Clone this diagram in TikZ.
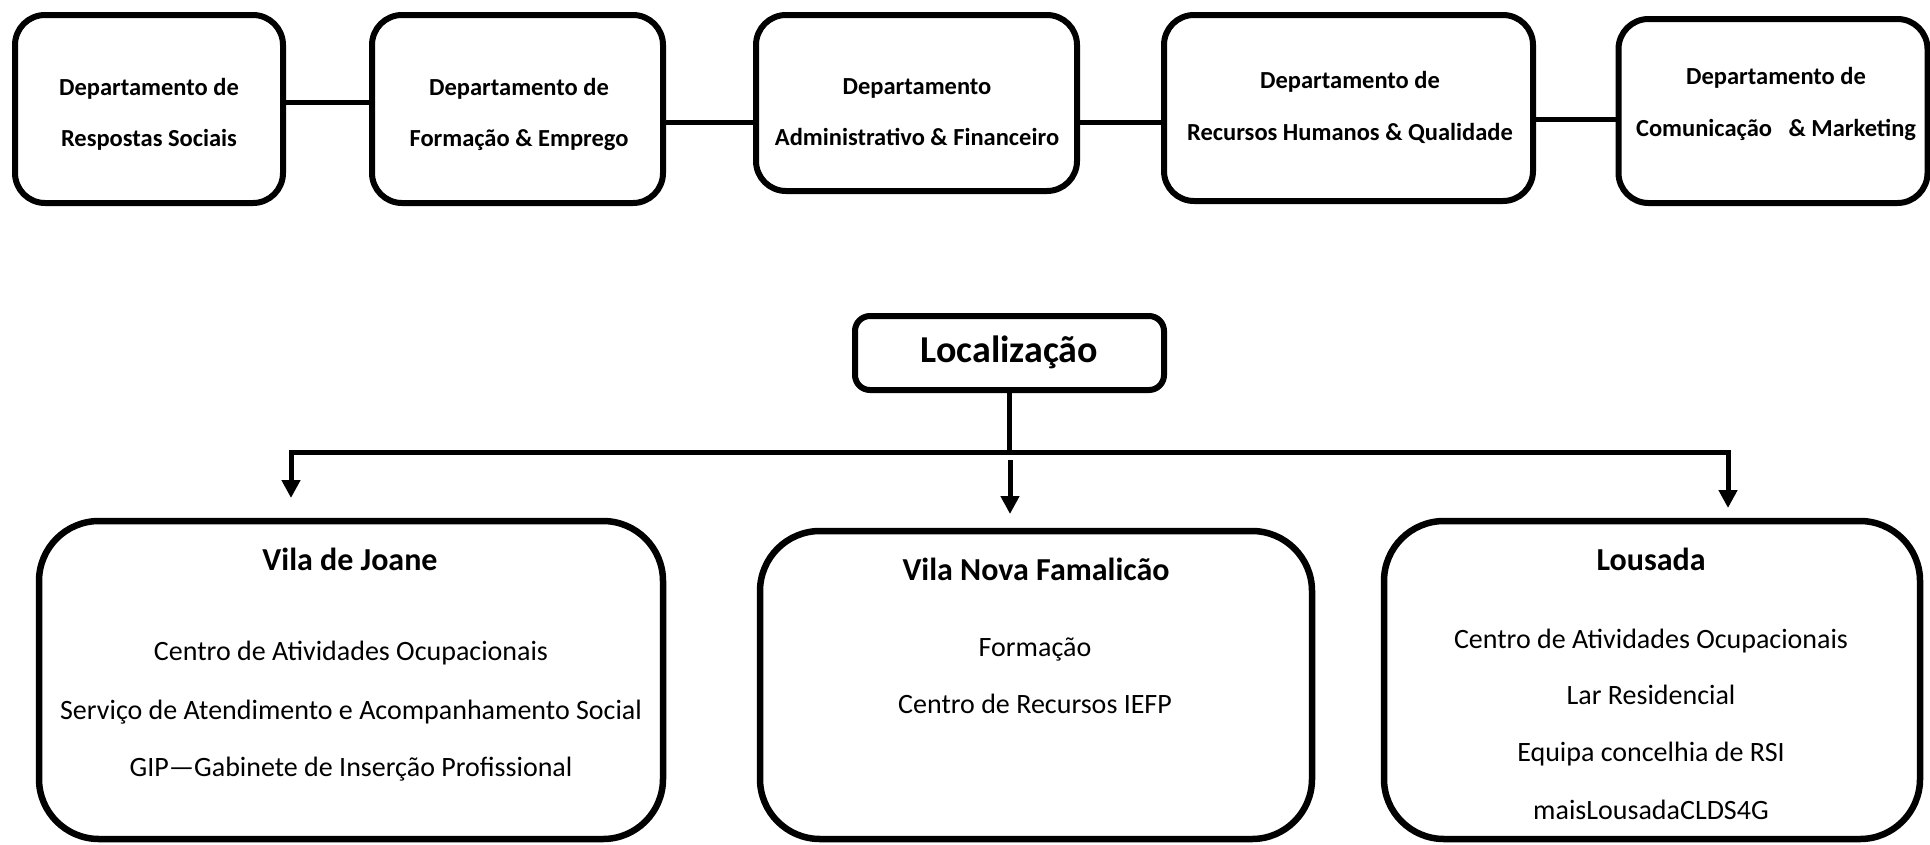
\documentclass[tikz,border=0pt]{standalone}
\usepackage{fontspec}
\setmainfont{Carlito}
\usetikzlibrary{arrows.meta}
\begin{document}
\begin{tikzpicture}[x=1pt,y=-1pt,
  dept/.style={draw,line width=6pt,rounded corners=30pt,minimum width=#1,inner sep=0pt},
  loc/.style={draw,line width=6.5pt,rounded corners=60pt,inner sep=0pt},
  dtxt/.style={anchor=base,font=\fontsize{24.5pt}{28pt}\selectfont\bfseries,inner sep=0pt},
  ttl/.style={anchor=base,font=\fontsize{32pt}{36pt}\selectfont\bfseries,inner sep=0pt},
  itm/.style={anchor=base,font=\fontsize{28pt}{32pt}\selectfont,inner sep=0pt},
  conn/.style={line width=5pt},
  arr/.style={line width=5pt,-{Triangle[width=18pt,length=18pt]}}
]
\useasboundingbox (0,0) rectangle (1930,844);
% top departments
\node[dept=268pt,minimum height=188pt] (B1) at (149,109) {};
\node[dept=291pt,minimum height=188pt] (B2) at (517.5,109) {};
\node[dept=321pt,minimum height=176pt] (B3) at (916.5,103) {};
\node[dept=369pt,minimum height=186pt] (B4) at (1348.5,108) {};
\node[dept=309pt,minimum height=184pt] (B5) at (1773,111) {};
\node[dtxt] (t1a) at (149,95) {Departamento de};
\node[dtxt] (t1b) at (149,146) {Respostas Sociais};
\node[dtxt] (t2a) at (519,95) {Departamento de};
\node[dtxt] (t2b) at (519,146) {Formação \& Emprego};
\node[dtxt] (t3a) at (917,94) {Departamento};
\node[dtxt] (t3b) at (917,145) {Administrativo \& Financeiro};
\node[dtxt] (t4a) at (1350,88) {Departamento de};
\node[dtxt] (t4b) at (1350,140) {Recursos Humanos \& Qualidade};
\node[dtxt] (t5a) at (1776,84) {Departamento de};
\node[dtxt] (t5b) at (1776,136) {Comunicação\ \ \ \& Marketing};
\coordinate (c12) at ([yshift=7pt]B1.east);
\coordinate (c23) at ([yshift=-13pt]B2.east);
\coordinate (c34) at ([yshift=-19pt]B3.east);
\coordinate (c45) at ([yshift=-11pt]B4.east);
\draw[conn] (c12) -- (c12 -| B2.west);
\draw[conn] (c23) -- (c23 -| B3.west);
\draw[conn] (c34) -- (c34 -| B4.west);
\draw[conn] (c45) -- (c45 -| B5.west);
% localizacao
\node[draw,line width=6pt,rounded corners=15pt,minimum width=309pt,minimum height=74pt,inner sep=0pt] (L) at (1009.5,353) {};
\node[anchor=base,font=\fontsize{38pt}{44pt}\selectfont\bfseries,inner sep=0pt] (Lt) at (1009.5,362) {Localização};
% bottom boxes
\node[loc,minimum width=624pt,minimum height=318pt] (VJ) at (351,680) {};
\node[loc,minimum width=552pt,minimum height=308pt] (VNF) at (1036,685) {};
\node[loc,minimum width=536pt,minimum height=318pt] (LO) at (1652,680) {};
% connectors
\coordinate (hub) at (L.south |- 0,452);
\coordinate (aVJ) at (291,498);
\coordinate (aLO) at (1728,508);
\coordinate (mS) at (1010,460);
\coordinate (mE) at (1010,514);
\draw[conn] (L.south) -- (hub);
\draw[arr] (hub) -| (aVJ);
\draw[arr] (hub) -| (aLO);
\draw[arr] (mS) -- (mE);
% texts
\node[ttl] (vjT) at (350,570) {Vila de Joane};
\node[itm] (vj1) at (351,660) {Centro de Atividades Ocupacionais};
\node[itm] (vj2) at (351,719) {Serviço de Atendimento e Acompanhamento Social};
\node[itm] (vj3) at (351,776) {GIP—Gabinete de Inserção Profissional};
\node[ttl] (vnT) at (1036,580) {Vila Nova Famalicão};
\node[itm] (vn1) at (1035,656) {Formação};
\node[itm] (vn2) at (1035,713) {Centro de Recursos IEFP};
\node[ttl] (loT) at (1651,570) {Lousada};
\node[itm] (lo1) at (1651,648) {Centro de Atividades Ocupacionais};
\node[itm] (lo2) at (1651,704) {Lar Residencial};
\node[itm] (lo3) at (1651,761) {Equipa concelhia de RSI};
\node[itm] (lo4) at (1651,819) {maisLousadaCLDS4G};
\end{tikzpicture}
\end{document}
